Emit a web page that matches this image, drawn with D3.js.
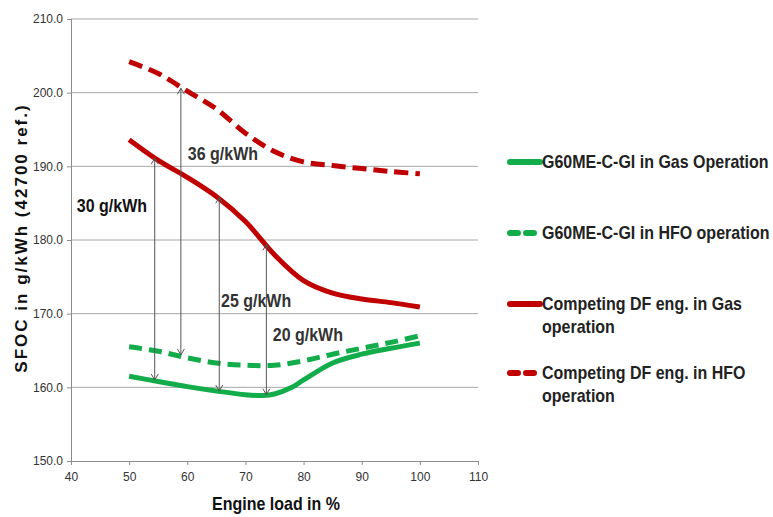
<!DOCTYPE html>
<html>
<head>
<meta charset="utf-8">
<script src="https://cdn.jsdelivr.net/npm/d3@7"></script>
<style>
  body { margin: 0; background: #fff; }
  text { font-family: "Liberation Sans", Arial, sans-serif; }
</style>
</head>
<body>
<svg id="chart" width="773" height="517"></svg>
<script>
// engine load (%) sampled along each curve
const loadGas = [50, 55, 60, 65, 70, 73, 75, 78, 80, 85, 90, 95, 100];
const gasGI = [161.5, 160.8, 160.1, 159.5, 159.0, 158.9, 159.1, 160.0, 161.0, 163.3, 164.5, 165.3, 166.0];

const load = [50, 55, 60, 65, 70, 75, 80, 85, 90, 95, 100];
const hfoGI = [165.5, 164.9, 164.0, 163.3, 163.0, 163.0, 163.6, 164.5, 165.3, 166.1, 167.0];
const gasDF = [193.6, 190.8, 188.5, 185.9, 182.5, 178.0, 174.5, 172.8, 172.0, 171.5, 170.9];
const hfoDF = [204.2, 202.6, 200.2, 197.8, 194.5, 192.0, 190.6, 190.1, 189.7, 189.3, 189.0];

const xTicks = [40, 50, 60, 70, 80, 90, 100, 110];
const yTicks = [150, 160, 170, 180, 190, 200, 210];

// difference arrows: load, low end, high end
const arrows = [
  { x: 54.4, y0: 161.0, y1: 191.1 },
  { x: 58.9, y0: 164.4, y1: 200.6 },
  { x: 65.5, y0: 159.5, y1: 185.8 },
  { x: 73.6, y0: 159.0, y1: 179.4 }
];
const notes = [
  { text: "30 g/kWh", x: 41.0, y: 184.7, color: "#111" },
  { text: "36 g/kWh", x: 60.1, y: 191.8, color: "#333" },
  { text: "25 g/kWh", x: 65.8, y: 171.8, color: "#333" },
  { text: "20 g/kWh", x: 74.7, y: 167.1, color: "#333" }
];

const green = "#12ad4a";
const red = "#c00000";

const series = [
  { name: ["G60ME-C-GI in Gas Operation"], xs: loadGas, ys: gasGI, color: green, dash: null },
  { name: ["G60ME-C-GI in HFO operation"], xs: load, ys: hfoGI, color: green, dash: "13,7" },
  { name: ["Competing DF eng. in Gas", "operation"], xs: load, ys: gasDF, color: red, dash: null },
  { name: ["Competing DF eng. in HFO", "operation"], xs: load, ys: hfoDF, color: red, dash: "14,7" }
];

const svg = d3.select("#chart");
const x = d3.scaleLinear().domain([40, 110]).range([71, 478]);
const y = d3.scaleLinear().domain([150, 210]).range([461, 19]);

// the source image is a bit stretched vertically, so text is too
const stretch = (px, py) => `translate(${px},${py}) scale(1,1.15)`;

// grid
svg.append("g")
  .selectAll("line")
  .data(yTicks.slice(1))
  .join("line")
  .attr("x1", x(40)).attr("x2", x(110))
  .attr("y1", d => y(d)).attr("y2", d => y(d))
  .attr("stroke", "#a6a6a6").attr("stroke-width", 1);

const xAxis = svg.append("g")
  .attr("transform", `translate(0,${y(150)})`)
  .call(d3.axisBottom(x).tickValues(xTicks).tickSize(4).tickPadding(7));
const yAxis = svg.append("g")
  .attr("transform", `translate(${x(40)},0)`)
  .call(d3.axisLeft(y).tickValues(yTicks).tickFormat(d3.format(".1f")).tickSize(4).tickPadding(4));

[xAxis, yAxis].forEach(a => {
  a.select(".domain").attr("stroke", "#8c8c8c");
  a.selectAll(".tick line").attr("stroke", "#8c8c8c");
  a.selectAll(".tick text").attr("fill", "#333").style("font-size", "12px");
});

svg.append("text")
  .attr("transform", stretch(276, 510))
  .attr("text-anchor", "middle")
  .style("font-size", "16px").style("font-weight", "bold").attr("fill", "#111")
  .text("Engine load in %");

svg.append("text")
  .attr("transform", "translate(27,238) rotate(-90)")
  .attr("text-anchor", "middle")
  .style("font-size", "17px").style("font-weight", "bold").style("letter-spacing", "2px")
  .attr("fill", "#111")
  .text("SFOC in g/kWh (42700 ref.)");

// arrowheads
const defs = svg.append("defs");
defs.append("marker")
  .attr("id", "arr")
  .attr("viewBox", "-8 -5 10 10")
  .attr("refX", 0).attr("refY", 0)
  .attr("markerWidth", 10).attr("markerHeight", 10)
  .attr("markerUnits", "userSpaceOnUse")
  .attr("orient", "auto-start-reverse")
  .append("path")
  .attr("d", "M-6,-3.5L0,0L-6,3.5")
  .attr("fill", "none").attr("stroke", "#555").attr("stroke-width", 1);

const line = d3.line()
  .x(d => d[0])
  .y(d => d[1])
  .curve(d3.curveCatmullRom.alpha(0.5));

svg.append("g")
  .selectAll("path")
  .data(series)
  .join("path")
  .attr("d", s => line(s.xs.map((v, i) => [x(v), y(s.ys[i])])))
  .attr("fill", "none")
  .attr("stroke", s => s.color)
  .attr("stroke-width", 5)
  .attr("stroke-dasharray", s => s.dash);

svg.append("g")
  .selectAll("line")
  .data(arrows)
  .join("line")
  .attr("x1", d => x(d.x)).attr("x2", d => x(d.x))
  .attr("y1", d => y(d.y0)).attr("y2", d => y(d.y1))
  .attr("stroke", "#555").attr("stroke-width", 1)
  .attr("marker-start", "url(#arr)")
  .attr("marker-end", "url(#arr)");

svg.append("g")
  .selectAll("text")
  .data(notes)
  .join("text")
  .attr("transform", d => stretch(x(d.x), y(d.y)))
  .attr("dy", "0.35em")
  .attr("fill", d => d.color)
  .style("font-size", "16px").style("font-weight", "bold")
  .text(d => d.text);

// legend
const legendY = [162, 233, 304, 373];
const lg = svg.append("g")
  .selectAll("g")
  .data(series)
  .join("g")
  .attr("transform", (d, i) => `translate(508,${legendY[i]})`);

lg.append("line")
  .attr("x1", 2).attr("x2", 32)
  .attr("stroke", d => d.color)
  .attr("stroke-width", 6)
  .attr("stroke-linecap", "round")
  .attr("stroke-dasharray", d => d.dash ? "8,8" : null);

lg.append("text")
  .attr("transform", "translate(34,0) scale(1,1.15)")
  .style("font-size", "16px").style("font-weight", "bold").attr("fill", "#222")
  .selectAll("tspan")
  .data(d => d.name)
  .join("tspan")
  .attr("x", 0)
  .attr("dy", (d, i) => i === 0 ? "0.35em" : 20)
  .text(d => d);
</script>
</body>
</html>
